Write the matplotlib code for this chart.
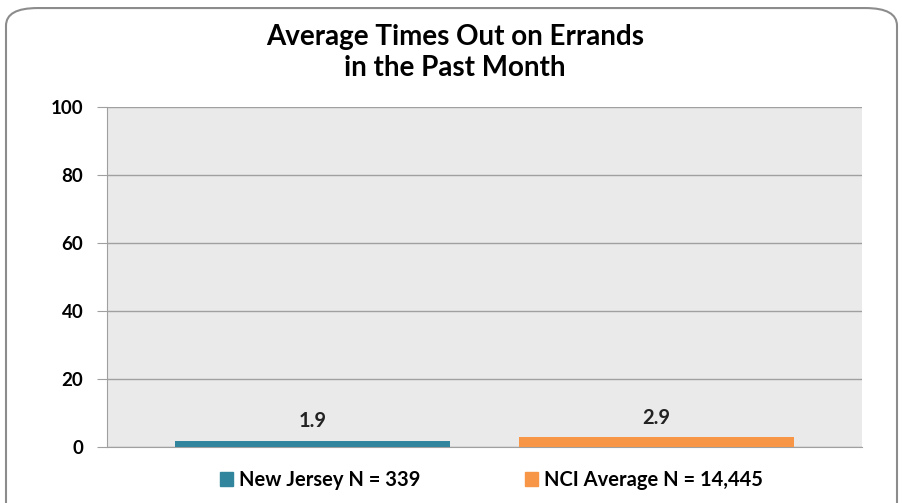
import matplotlib.pyplot as plt
from matplotlib.patches import FancyBboxPatch, Rectangle

# datos
series = ["New Jersey N = 339", "NCI Average N = 14,445"]
valores = [1.9, 2.9]
colores = ["#31859C", "#F79646"]
yticks = [0, 20, 40, 60, 80, 100]

plt.rcParams['font.family'] = ['Lato', 'DejaVu Sans']

fig = plt.figure(figsize=(9.03, 5.03), dpi=100)
ax = fig.add_axes([107/903, 1-447/503, 755/903, 340/503])

# marco redondeado del grafico
marco = FancyBboxPatch((6/903, -0.05), 891/903, 1.034,
                       boxstyle="round,pad=0,rounding_size=0.035",
                       transform=fig.transFigure, facecolor='none',
                       edgecolor='#8C8C8C', linewidth=1.5)
fig.patches.append(marco)

pos = list(range(len(valores)))
ax.bar(pos, valores, width=0.8, color=colores, zorder=3)
for x, v in zip(pos, valores):
    ax.text(x, v + 2.7, f"{v}", ha='center', va='bottom', fontsize=14.5,
            fontweight='bold', color='#222222')

ax.set_xlim(-0.598, 1.598)
ax.set_ylim(0, 100)
ax.set_facecolor('#EAEAEA')
ax.set_yticks(yticks)
ax.set_yticklabels([str(t) for t in yticks], fontsize=13.5, fontweight='bold')
ax.set_xticks([])
ax.yaxis.grid(True, color='#A0A0A0', linewidth=1, zorder=0)
ax.tick_params(axis='y', length=7, color='#A0A0A0', pad=10)
for s in ['top', 'right']:
    ax.spines[s].set_visible(False)
ax.spines['left'].set_color('#A0A0A0')
ax.spines['bottom'].set_color('#A0A0A0')

fig.text(0.504, 1-37/503, "Average Times Out on Errands", ha='center',
         va='center', fontsize=20, fontweight='bold')
fig.text(0.504, 1-68/503, "in the Past Month", ha='center',
         va='center', fontsize=20, fontweight='bold')

# leyenda
handles = [Rectangle((0, 0), 1, 1, color=c) for c in colores]
fig.legend(handles, series, loc='center', bbox_to_anchor=(0.544, 1-480/503),
           ncol=2, frameon=False, prop={'size': 14.5, 'weight': 'bold'},
           handlelength=0.65, handleheight=0.65, columnspacing=5.2, handletextpad=0.3)

plt.savefig('out.png', dpi=100)
